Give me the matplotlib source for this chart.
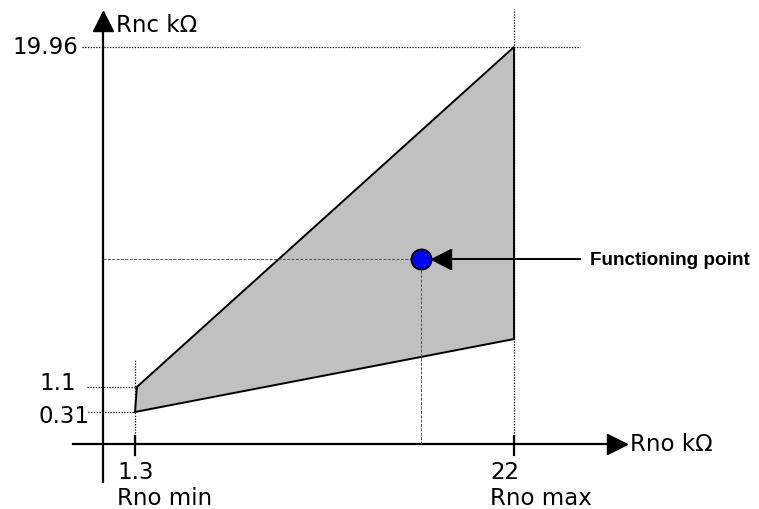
import numpy as np
import matplotlib.pyplot as plt
from matplotlib.patches import Polygon

# operating region corners (kOhm): Rno on x, Rnc on y
rno_region = [1.3, 1.4, 22, 22]
rnc_region = [0.31, 1.1, 19.96, 3.76]

rno_ticks = [1.3, 22]
rno_tick_names = ['Rno min', 'Rno max']
rnc_ticks = [19.96, 1.1, 0.31]

work_rno = 16.9
work_rnc = 8.2

W, H = 759, 510

# schematic (not to scale) axes, the bottom values are stretched
x_px_per_k = (514 - 135) / (22 - 1.3)
x_px0 = 135 - 1.3 * x_px_per_k
y_vals = [-5, 0, 0.31, 1.1, 19.96, 40]
y_hts = [-25, 65, 97, 122, 462, 462 + (40 - 19.96) * 18.03]


def fwd(v):
    return np.interp(v, y_vals, y_hts)


def inv(h):
    return np.interp(h, y_hts, y_vals)


def px2x(px):
    return (px - x_px0) / x_px_per_k


def px2y(py):
    return float(inv(H - py))


fig = plt.figure(figsize=(W / 100, H / 100), dpi=100)
ax = fig.add_axes([0, 0, 1, 1])
ax.set_yscale('function', functions=(fwd, inv))
ax.set_xlim(px2x(0), px2x(W))
ax.set_ylim(px2y(H), px2y(0))
ax.set_axis_off()

# region
poly = Polygon(list(zip(rno_region, rnc_region)), closed=True,
               facecolor='#c0c0c0', edgecolor='black', lw=1.4, zorder=2)
ax.add_patch(poly)

# main axes with arrows
yx = px2x(103)
ax.plot([yx, yx], [px2y(483), px2y(25)], color='black', lw=1.6, zorder=3)
ax.plot([yx], [px2y(22)], marker='^', ms=14.5, color='black', zorder=3)
ax.plot([px2x(73), px2x(615)], [0, 0], color='black', lw=1.6, zorder=3)
ax.plot([px2x(617)], [0], marker='>', ms=14.5, color='black', zorder=3)

dot = dict(color='black', lw=0.9, ls=(0, (1, 1.2)), zorder=3)

# x ticks, guides and labels
for v, name in zip(rno_ticks, rno_tick_names):
    ax.plot([v, v], [px2y(437), px2y(456)], color='black', lw=1.6, zorder=3)
    ax.annotate(f'{v:g}\n{name}', xy=(v, 0), xytext=(-18 if v < 10 else -24, -16),
                textcoords='offset pixels', ha='left', va='top',
                fontsize=16.5, linespacing=1.15)
ax.plot([rno_ticks[0]] * 2, [0, px2y(360)], **dot)
ax.plot([rno_ticks[1]] * 2, [0, px2y(10)], **dot)

# y guides and labels
ax.plot([px2x(82), px2x(580)], [rnc_ticks[0]] * 2, **dot)
ax.plot([px2x(87), rno_ticks[0]], [rnc_ticks[1]] * 2, **dot)
ax.plot([px2x(88), rno_ticks[0]], [rnc_ticks[2]] * 2, **dot)
for v, xr, dy in zip(rnc_ticks, [78, 76, 89], [1, 4, -4]):
    ax.annotate(f'{v:g}', xy=(px2x(xr), v), xytext=(0, dy),
                textcoords='offset pixels', ha='right', va='center', fontsize=16.5)

ax.text(px2x(116), px2y(25), 'Rnc k\u03a9', ha='left', va='center', fontsize=16.5)
ax.text(px2x(630), 0, 'Rno k\u03a9', ha='left', va='center', fontsize=16.5)

# functioning point
guide = dict(color='#555555', lw=0.7, ls=(0, (3, 1.5)), zorder=3)
ax.plot([yx, work_rno], [work_rnc, work_rnc], **guide)
ax.plot([work_rno, work_rno], [0, work_rnc], **guide)
ax.plot([work_rno], [work_rnc], marker='o', ms=14.5, mfc='#0000ff', mec='black',
        mew=1.3, zorder=5)
ax.plot([px2x(445), px2x(580)], [work_rnc, work_rnc], color='black', lw=1.4, zorder=4)
ax.plot([px2x(441)], [work_rnc], marker='<', ms=14, color='black', zorder=5)
ax.text(px2x(590), work_rnc, 'Functioning point', ha='left', va='center',
        fontsize=13.6, fontweight='bold', family=['Liberation Sans', 'DejaVu Sans'])

fig.savefig('out.png', dpi=100)
